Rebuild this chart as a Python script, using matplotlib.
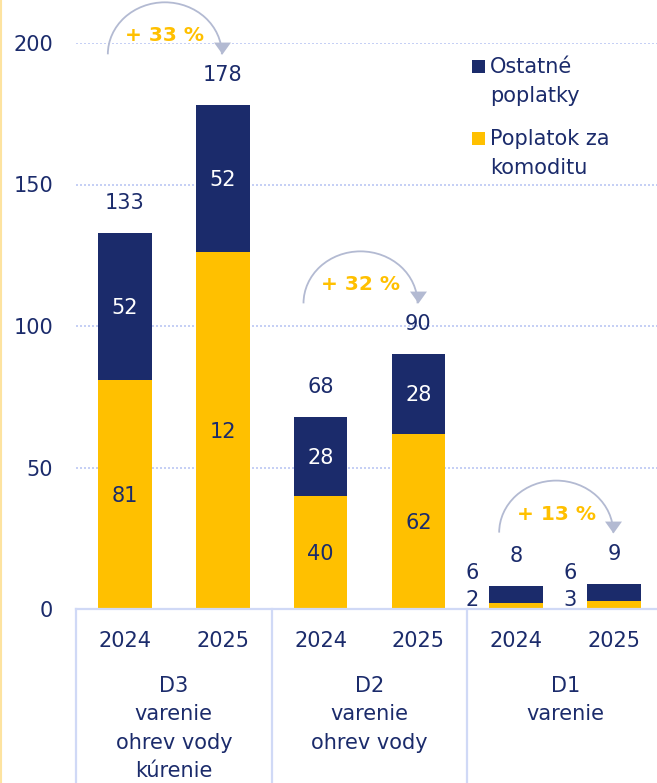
import matplotlib
matplotlib.use("Agg")
import matplotlib.pyplot as plt
from matplotlib.patches import Arc
from matplotlib.lines import Line2D

plt.rcParams['font.family'] = ['DejaVu Sans']

# ---------------- data ----------------
years = ["2024", "2025", "2024", "2025", "2024", "2025"]
groups = ["D3\nvarenie\nohrev vody\nkúrenie", "D2\nvarenie\nohrev vody", "D1\nvarenie"]
komodita = [81, 126, 40, 62, 2, 3]          # Poplatok za komoditu
ostatne = [52, 52, 28, 28, 6, 6]            # Ostatné poplatky
komodita_labels = ["81", "12", "40", "62", "2", "3"]
ostatne_labels = ["52", "52", "28", "28", "6", "6"]
growth = ["+ 33 %", "+ 32 %", "+ 13 %"]
yticks = [0, 50, 100, 150, 200]
series_names = ["Ostatné\npoplatky", "Poplatok za\nkomoditu"]

# ---------------- style ----------------
NAVY = "#1b2b6b"
YELLOW = "#ffc000"
GRID = "#c6d0f5"
BASE = "#d0d9f6"
ARROW = "#b3bad2"
FS = 15
PT = 0.72  # points per pixel at 100 dpi

W, H = 657, 783
fig = plt.figure(figsize=(W / 100, H / 100), dpi=100)


def fx(px):
    return px / W


def fy(py):
    return 1 - py / H


x0, x1 = 76, 663
ytop, ybot = 43, 609
ax = fig.add_axes([fx(x0), fy(ybot), (x1 - x0) / W, (ybot - ytop) / H])
ax.set_xlim(-0.5, 5.5)
ax.set_ylim(0, 200)
for s in ax.spines.values():
    s.set_visible(False)
ax.set_facecolor("none")

px_per_x = (x1 - x0) / 6.0
px_per_y = (ybot - ytop) / 200.0

xs = list(range(len(years)))
bw = 0.55
totals = [a + b for a, b in zip(komodita, ostatne)]
ax.bar(xs, komodita, width=bw, color=YELLOW, zorder=3, linewidth=0)
ax.bar(xs, ostatne, width=bw, bottom=komodita, color=NAVY, zorder=3, linewidth=0)

# gridlines
for v in yticks[1:]:
    ax.axhline(v, color=GRID, lw=1.44, ls=(0, (1, 1)), zorder=1)
ax.axhline(0, color=BASE, lw=1.6, zorder=4, clip_on=False)

ax.set_yticks(yticks)
ax.set_yticklabels([str(v) for v in yticks])
ax.tick_params(axis='y', length=0, pad=23 * PT, labelsize=FS, labelcolor=NAVY)
ax.set_xticks([])

# group separators
for b in [-0.5, 1.5, 3.5, 5.5]:
    ax.axvline(b, ymin=-0.32, ymax=0, color=BASE, lw=1.6, clip_on=False, zorder=4)

# year labels
for x, yl in zip(xs, years):
    ax.annotate(yl, (x, 0), xytext=(0, -38 * PT), textcoords='offset points',
                ha='center', va='baseline', fontsize=FS, color=NAVY, annotation_clip=False)

# group labels
for g, lab in enumerate(groups):
    cx = 2 * g + 0.5
    for j, line in enumerate(lab.split("\n")):
        ax.annotate(line, (cx, 0), xytext=(0, -(83 + 28.4 * j) * PT), textcoords='offset points',
                    ha='center', va='baseline', fontsize=FS, color=NAVY, annotation_clip=False)

# segment + total labels
for i, x in enumerate(xs):
    k, o, t = komodita[i], ostatne[i], totals[i]
    if o >= 10:
        ax.annotate(komodita_labels[i], (x, k / 2), xytext=(0, -7.5 * PT), textcoords='offset points',
                    ha='center', va='baseline', fontsize=FS, color=NAVY, zorder=5)
        ax.annotate(ostatne_labels[i], (x, k + o / 2), xytext=(0, -7.5 * PT), textcoords='offset points',
                    ha='center', va='baseline', fontsize=FS, color="white", zorder=5)
    else:
        ax.annotate(komodita_labels[i], (x - bw / 2, 0), xytext=(-17 * PT, 3 * PT), textcoords='offset points',
                    ha='center', va='baseline', fontsize=FS, color=NAVY, zorder=5)
        ax.annotate(ostatne_labels[i], (x - bw / 2, 0), xytext=(-17 * PT, 30 * PT), textcoords='offset points',
                    ha='center', va='baseline', fontsize=FS, color=NAVY, zorder=5)
    ax.annotate(str(t), (x, t), xytext=(0, 24 * PT), textcoords='offset points',
                ha='center', va='baseline', fontsize=FS, color=NAVY, zorder=5)

# growth arrows
tri = [(-1, 0.7), (1, 0.7), (0, -0.7)]
for g, txt in enumerate(growth):
    a, b = 2 * g, 2 * g + 1
    cx = (a + b) / 2 - 9 / px_per_x
    rx = 57 / px_per_x
    ry = 52 / px_per_y
    base = totals[b] + 18
    ax.add_patch(Arc((cx, base), 2 * rx, 2 * ry, theta1=0, theta2=180, color=ARROW, lw=1.3,
                     clip_on=False, zorder=6))
    ax.plot([cx + rx], [base + 6 / px_per_y], marker=tri, ms=12.2, color=ARROW, mew=0,
            clip_on=False, zorder=7, linestyle='none')
    ax.annotate(txt, (cx, base), xytext=(0, 13 * PT), textcoords='offset points',
                ha='center', va='baseline', fontsize=14.5, fontweight='bold', color=YELLOW,
                zorder=8, annotation_clip=False)

# legend (custom)
leg_colors = [NAVY, YELLOW]
leg_y = [65.5, 137.5]
for name, col, ly in zip(series_names, leg_colors, leg_y):
    fig.add_artist(Line2D([fx(477.5)], [fy(ly)], marker='s', ms=13 * PT, color=col, mew=0,
                          linestyle='none', transform=fig.transFigure))
    for j, line in enumerate(name.split("\n")):
        fig.text(fx(490), fy(ly + 7.5 + 28.5 * j), line, ha='left', va='baseline',
                 fontsize=FS, color=NAVY)

# thin yellow line on the left edge
fig.add_artist(Line2D([fx(1), fx(1)], [0, 1], color="#fde3a0", lw=1.5, transform=fig.transFigure))

fig.savefig("out.png", dpi=100)
